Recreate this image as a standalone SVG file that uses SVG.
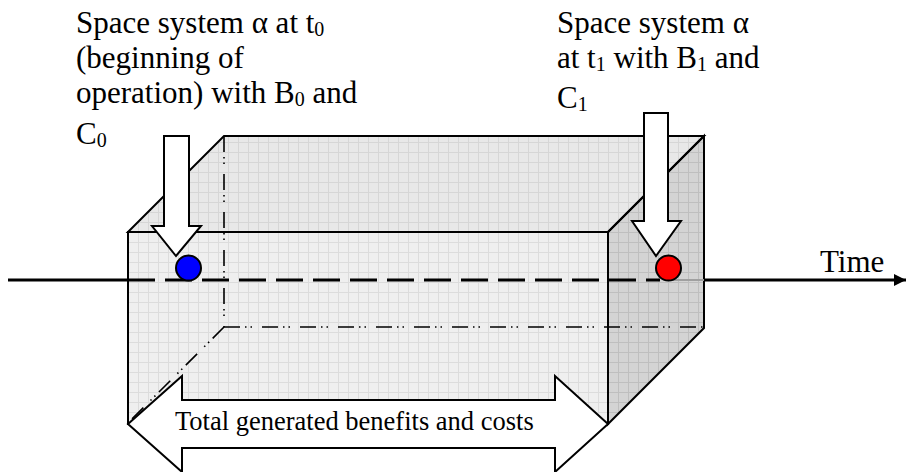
<svg xmlns="http://www.w3.org/2000/svg" width="908" height="472" viewBox="0 0 908 472">
  <style>
    .t { font-family: "Liberation Serif", "Times New Roman", serif; font-size: 31px; fill: #000; }
    .sub { font-size: 20px; }
    .edge { fill: none; stroke: #000; stroke-width: 2; stroke-linejoin: miter; }
    .hidden { fill: none; stroke: #000; stroke-width: 1.6; stroke-dasharray: 16 5 1.5 4 1.5 10; }
    .blk { fill: #fff; stroke: #000; stroke-width: 2; stroke-linejoin: miter; }
  </style>
  <defs>
    <pattern id="gridF" width="10" height="10" patternUnits="userSpaceOnUse" x="128" y="232">
      <rect width="10" height="10" fill="#efefef"/>
      <path d="M0 0.5H10M0.5 0V10" stroke="#dcdcdc" stroke-width="1"/>
    </pattern>
    <pattern id="gridT" width="10" height="10" patternUnits="userSpaceOnUse" x="128" y="232">
      <rect width="10" height="10" fill="#e8e8e8"/>
      <path d="M0 0.5H10M0.5 0V10" stroke="#d6d6d6" stroke-width="1"/>
    </pattern>
    <pattern id="gridS" width="10" height="10" patternUnits="userSpaceOnUse" x="128" y="232">
      <rect width="10" height="10" fill="#d4d4d4"/>
      <path d="M0 0.5H10M0.5 0V10" stroke="#bfbfbf" stroke-width="1"/>
    </pattern>
    <marker id="ah" markerWidth="12" markerHeight="12" refX="10" refY="5" orient="auto" markerUnits="userSpaceOnUse" viewBox="0 0 10 10">
      <path d="M0 0L10 5L0 10Z" fill="#000"/>
    </marker>
  </defs>

  <g id="box">
    <rect x="128" y="232" width="480" height="192" fill="url(#gridF)"/>
    <polygon points="128,232 224,136 704,136 608,232" fill="url(#gridT)"/>
    <polygon points="608,232 704,136 704,328 608,424" fill="url(#gridS)"/>
    <path class="hidden" d="M224 136V327"/>
    <path class="hidden" d="M224 327H704"/>
    <path class="hidden" d="M224 327L128 423"/>
    <rect class="edge" x="128" y="232" width="480" height="192"/>
    <polygon class="edge" points="128,232 224,136 704,136 608,232"/>
    <polygon class="edge" points="608,232 704,136 704,328 608,424"/>
  </g>

  <g id="connectors">
    <path d="M8 280H128" stroke="#000" stroke-width="3" fill="none"/>
    <path d="M128 280H660" stroke="#000" stroke-width="3" fill="none" stroke-dasharray="27 10"/>
    <path d="M668 280H704" stroke="#a0a0a0" stroke-width="2" fill="none"/>
    <path d="M704 280H906" stroke="#000" stroke-width="3" fill="none" marker-end="url(#ah)"/>
  </g>

  <g id="ball-t0">
    <circle cx="188.5" cy="268" r="12.5" fill="#0000ff" stroke="#000" stroke-width="2"/>
  </g>
  <g id="ball-t1">
    <circle cx="668.5" cy="268" r="12.5" fill="#ff0000" stroke="#000" stroke-width="2"/>
  </g>

  <g id="arrow-t0">
    <polygon class="blk" points="164,136 189,136 189,226 201,226 176,256 152,226 164,226"/>
  </g>
  <g id="arrow-t1">
    <polygon class="blk" points="644,113 668,113 668,221 681,221 656,256 632,221 644,221"/>
  </g>

  <g id="total-arrow">
    <polygon class="blk" points="128,424 182,376 182,400 555,400 555,376 608,424 555,472 555,448 182,448 182,472"/>
    <text x="175" y="430" class="t" style="font-size:26.5px">Total generated benefits and costs</text>
  </g>

  <g id="label-t0">
    <text class="t" x="76" y="33">Space system α at t<tspan class="sub" dy="3">0</tspan></text>
    <text class="t" x="76" y="68">(beginning of</text>
    <text class="t" x="76" y="103">operation) with B<tspan class="sub" dy="3">0</tspan><tspan dy="-3"> and</tspan></text>
    <text class="t" x="76" y="144">C<tspan class="sub" dy="3">0</tspan></text>
  </g>

  <g id="label-t1">
    <text class="t" x="557" y="33">Space system α</text>
    <text class="t" x="557" y="68">at t<tspan class="sub" dy="3">1</tspan><tspan dy="-3"> with B</tspan><tspan class="sub" dy="3">1</tspan><tspan dy="-3"> and</tspan></text>
    <text class="t" x="557" y="108">C<tspan class="sub" dy="3">1</tspan></text>
  </g>

  <g id="label-time">
    <text class="t" x="820" y="272">Time</text>
  </g>
</svg>
